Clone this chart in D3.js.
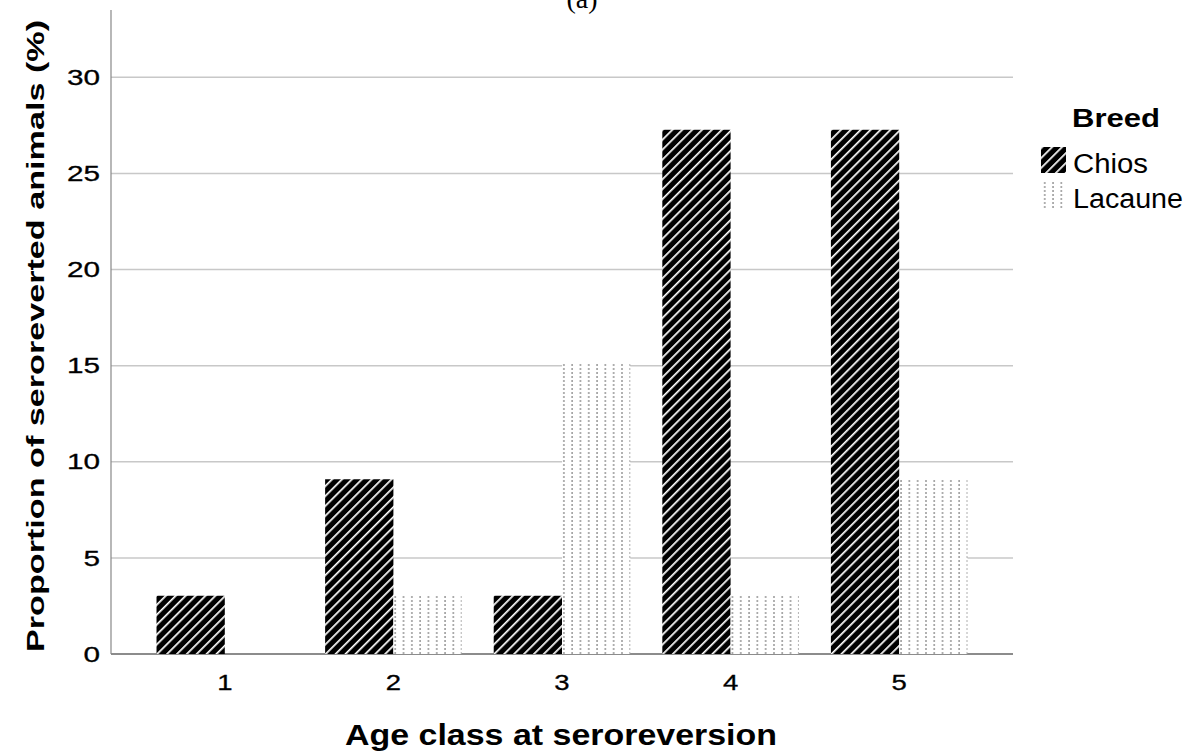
<!DOCTYPE html>
<html>
<head>
<meta charset="utf-8">
<script src="https://cdn.jsdelivr.net/npm/d3@7"></script>
<style>
  body { margin: 0; background: #fff; }
  svg { font-family: "Liberation Sans", Arial, sans-serif; }
</style>
</head>
<body>
<svg width="1198" height="754"></svg>
<script>
// age classes and breed series
var ageClasses = ["1", "2", "3", "4", "5"];
var breeds = ["Chios", "Lacaune"];
var chios = [3.03, 9.09, 3.03, 27.27, 27.27];
var lacaune = [0, 3.03, 15.15, 3.03, 9.09];
var yTicks = [0, 5, 10, 15, 20, 25, 30];

var svg = d3.select("svg"),
    plotLeft = 111, plotRight = 1013, plotTop = 10, plotBottom = 654;

var defs = svg.append("defs");

// diagonal stripes for Chios
var pc = defs.append("pattern")
    .attr("id", "pChios")
    .attr("patternUnits", "userSpaceOnUse")
    .attr("width", 7).attr("height", 7)
    .attr("patternTransform", "rotate(45)");
pc.append("rect").attr("width", 7).attr("height", 7).attr("fill", "#000");
pc.append("rect").attr("x", 0).attr("width", 1.7).attr("height", 7).attr("fill", "#fff");

// dotted vertical lines for Lacaune, on white
var pl = defs.append("pattern")
    .attr("id", "pLacaune")
    .attr("patternUnits", "userSpaceOnUse")
    .attr("width", 8.3).attr("height", 4);
pl.append("rect").attr("width", 8.3).attr("height", 4).attr("fill", "#fff");
pl.append("rect").attr("x", 3).attr("y", 0).attr("width", 1.5).attr("height", 2).attr("fill", "#999");

var x = d3.scaleBand()
    .domain(ageClasses)
    .range([140.5, 983.5])
    .paddingInner(0.19)
    .paddingOuter(0.095);

var xs = d3.scaleBand()
    .domain(breeds)
    .range([0, x.bandwidth()]);

var y = d3.scaleLinear()
    .domain([0, 33.5])
    .range([plotBottom, plotTop]);

// gridlines
svg.append("g").selectAll("line")
    .data(yTicks.slice(1))
    .enter().append("line")
    .attr("x1", plotLeft).attr("x2", plotRight)
    .attr("y1", function(d) { return y(d); })
    .attr("y2", function(d) { return y(d); })
    .attr("stroke", "#c8c8c8")
    .attr("stroke-width", 1.5);

// axis lines
svg.append("line")
    .attr("x1", plotLeft).attr("x2", plotRight)
    .attr("y1", plotBottom).attr("y2", plotBottom)
    .attr("stroke", "#666").attr("stroke-width", 1.5);
svg.append("line")
    .attr("x1", plotLeft).attr("x2", plotLeft)
    .attr("y1", plotTop).attr("y2", plotBottom)
    .attr("stroke", "#888").attr("stroke-width", 1.2);

// bars
var rows = ageClasses.map(function(a, i) {
    return { age: a, Chios: chios[i], Lacaune: lacaune[i] };
});

var grp = svg.append("g").selectAll("g")
    .data(rows)
    .enter().append("g")
    .attr("transform", function(d) { return "translate(" + x(d.age) + ",0)"; });

grp.selectAll("rect")
    .data(function(d) { return breeds.map(function(b) { return { key: b, value: d[b] }; }); })
    .enter().append("rect")
    .attr("x", function(d) { return xs(d.key); })
    .attr("width", xs.bandwidth())
    .attr("y", function(d) { return y(d.value); })
    .attr("height", function(d) { return y(0) - y(d.value); })
    .attr("fill", function(d) { return d.key == "Chios" ? "url(#pChios)" : "url(#pLacaune)"; });

// y tick labels (the original font is stretched sideways)
svg.append("g").selectAll("text")
    .data(yTicks)
    .enter().append("text")
    .attr("transform", function(d) { return "translate(100," + y(d) + ")scale(1.35,1)"; })
    .attr("dy", "0.35em")
    .attr("text-anchor", "end")
    .style("font-size", "22px")
    .style("stroke", "#000").style("stroke-width", 0.3)
    .text(function(d) { return d; });

// x tick labels
svg.append("g").selectAll("text")
    .data(ageClasses)
    .enter().append("text")
    .attr("transform", function(d) { return "translate(" + (x(d) + x.bandwidth() / 2) + ",690)scale(1.25,1)"; })
    .attr("text-anchor", "middle")
    .style("font-size", "22px")
    .style("stroke", "#000").style("stroke-width", 0.3)
    .text(function(d) { return d; });

// axis titles
svg.append("text")
    .attr("transform", "translate(44,336)rotate(-90)")
    .attr("text-anchor", "middle")
    .attr("textLength", 632)
    .attr("lengthAdjust", "spacingAndGlyphs")
    .style("font-size", "24px")
    .style("font-weight", "bold")
    .text("Proportion of seroreverted animals (%)");

svg.append("text")
    .attr("x", 561).attr("y", 745)
    .attr("text-anchor", "middle")
    .attr("textLength", 432)
    .attr("lengthAdjust", "spacingAndGlyphs")
    .style("font-size", "30px")
    .style("font-weight", "bold")
    .text("Age class at seroreversion");

// panel label
svg.append("text")
    .attr("x", 582).attr("y", 8)
    .attr("text-anchor", "middle")
    .style("font-family", "Liberation Serif, serif")
    .style("font-size", "28px")
    .text("(a)");

// legend
var leg = svg.append("g");
leg.append("text")
    .attr("x", 1072).attr("y", 127)
    .attr("textLength", 88)
    .attr("lengthAdjust", "spacingAndGlyphs")
    .style("font-size", "25px")
    .style("font-weight", "bold")
    .text("Breed");

var legLen = { Chios: 75, Lacaune: 110 };
leg.selectAll("g")
    .data(breeds)
    .enter().append("g")
    .attr("transform", function(d, i) { return "translate(1041," + (147 + i * 35) + ")"; })
    .each(function(d) {
        var g = d3.select(this);
        g.append("rect")
            .attr("width", 25).attr("height", 26)
            .attr("fill", d == "Chios" ? "url(#pChios)" : "url(#pLacaune)");
        g.append("text")
            .attr("x", 32).attr("y", 26)
            .attr("textLength", legLen[d])
            .attr("lengthAdjust", "spacingAndGlyphs")
            .style("font-size", "27px")
            .text(d);
    });
</script>
</body>
</html>
